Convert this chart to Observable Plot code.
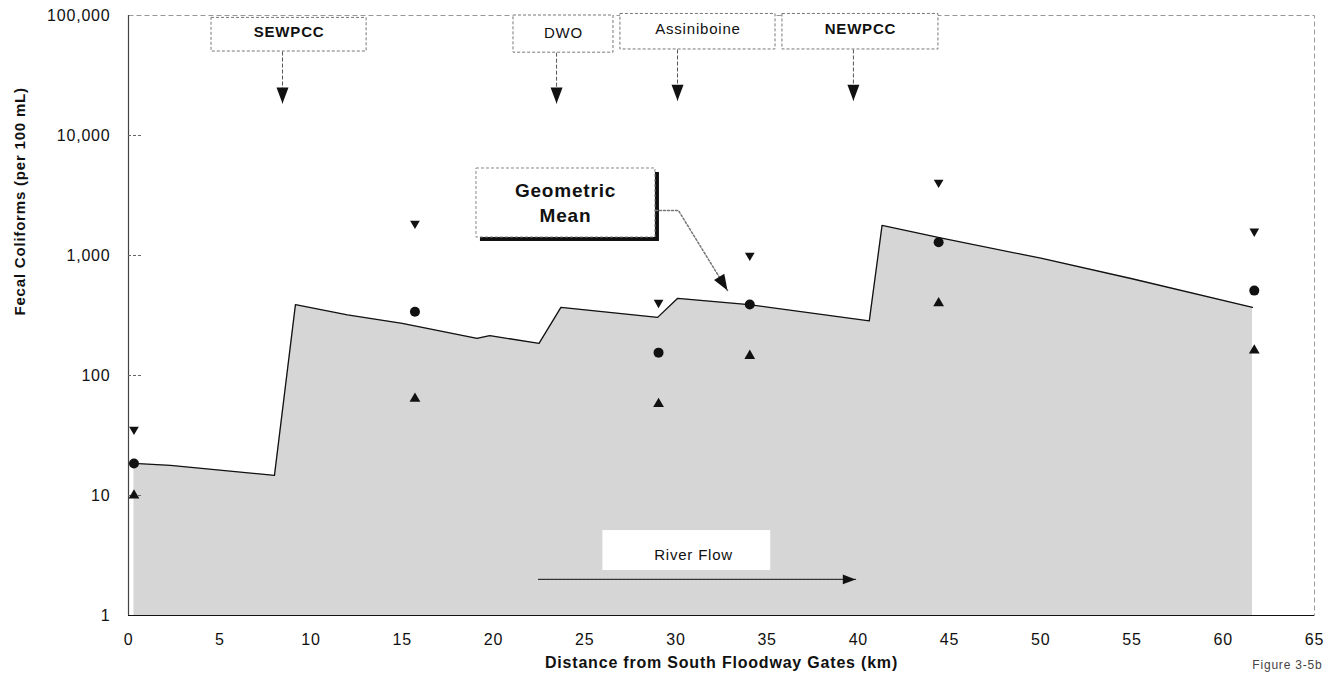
<!DOCTYPE html>
<html>
<head>
<meta charset="utf-8">
<script src="https://cdn.jsdelivr.net/npm/d3@7"></script>
<script src="https://cdn.jsdelivr.net/npm/@observablehq/plot@0.6"></script>
<style>
  html, body { margin: 0; padding: 0; background: #fff; }
  #chart { width: 1335px; height: 677px; }
</style>
</head>
<body>
<div id="chart"></div>
<script>
// ---- Geometric mean profile (modelled line) ----
const profileKm = [0.3, 2.3, 8.0, 9.15, 12, 15, 19.1, 19.8, 22.5, 23.7, 29.0, 30.1, 34.0, 40.6, 41.3, 44.5, 50, 55, 61.6];
const profileGM = [18.5, 17.8, 14.7, 390, 320, 272, 204, 215, 185, 370, 305, 440, 390, 285, 1780, 1400, 950, 640, 370];

// ---- Observed values at sampling sites ----
const siteKm  = [0.3, 15.7, 29.05, 34.05, 44.4, 61.7];
const siteMax = [35.5, 1850, 405, 1000, 4060, 1590];
const siteGeo = [18.5, 340, 155, 390, 1290, 510];
const siteMin = [10, 64, 58, 146, 400, 162];

// ---- Tick labels ----
const xTicks = [0, 5, 10, 15, 20, 25, 30, 35, 40, 45, 50, 55, 60, 65];
const yTicks = [1, 10, 100, 1000, 10000, 100000];

// ---- Annotations: inputs along the river ----
const stationNames = ["SEWPCC", "DWO", "Assiniboine", "NEWPCC"];
const stationKm    = [8.44, 23.46, 30.09, 39.73];
const stationBoxX1 = [4.55, 21.1, 26.96, 35.84];
const stationBoxX2 = [13.05, 26.58, 35.46, 44.39];
const stationBoxTop = [95500, 100000, 103000, 103000];
const stationBoxBottom = [50100, 49000, 52100, 52100];
const stationLabelY = [72000, 70800, 76400, 76400];
const stationTipY = [18500, 18500, 19500, 19500];
const boldStations = ["SEWPCC", "NEWPCC"];

// ---- Annotation: Geometric Mean callout ----
const gmLabel = "Geometric\nMean";
const gmBox = {x1: 19.07, x2: 28.88, y1: 1413, y2: 5310, tx: 23.95, ty: 2818};
const gmLeaderKm = [28.88, 30.14, 32.83];
const gmLeaderVal = [2371, 2371, 511];

// ---- Annotation: River Flow ----
const flowLabel = "River Flow";
const flowKm = [22.47, 39.85];
const flowVal = [2.0, 2.0];
const flowBox = {x1: 26.0, x2: 35.2, y1: 2.37, y2: 5.1, tx: 30.97, ty: 3.16};

// build tables
const profile = profileKm.map((x, i) => ({x, v: profileGM[i]}));
const sites = siteKm.map((x, i) => ({x, max: siteMax[i], geo: siteGeo[i], min: siteMin[i]}));
const stations = stationNames.map((name, i) => ({
  name, x: stationKm[i], bx1: stationBoxX1[i], bx2: stationBoxX2[i],
  top: stationBoxTop[i], bottom: stationBoxBottom[i], ly: stationLabelY[i], tip: stationTipY[i]
}));
const gmLeader = gmLeaderKm.map((x, i) => ({x, v: gmLeaderVal[i]}));
const flow = flowKm.map((x, i) => ({x, v: flowVal[i]}));

// filled arrowhead symbol, tip at origin, pointing down
const arrowHead = {
  draw(ctx, size) {
    const r = Math.sqrt(size / Math.PI);
    ctx.moveTo(0, 0);
    ctx.lineTo(-0.6 * r, -1.6 * r);
    ctx.lineTo(0.6 * r, -1.6 * r);
    ctx.closePath();
  }
};

const font = "'Liberation Sans', Arial, Helvetica, sans-serif";

const chart = Plot.plot({
  width: 1335,
  height: 677,
  marginLeft: 128,
  marginRight: 21,
  marginTop: 15,
  marginBottom: 62,
  style: {fontFamily: font, fontSize: "15px", color: "#111", background: "white", letterSpacing: "0.8px"},
  x: {domain: [0, 65]},
  y: {type: "log", domain: [1, 100000]},
  marks: [
    // shaded area under geometric mean profile
    Plot.areaY(profile, {x: "x", y1: () => 1, y2: "v", fill: "#d6d6d6"}),
    Plot.line(profile, {x: "x", y: "v", stroke: "#111", strokeWidth: 1.3}),
    // frame (dashed grey, top/right)
    Plot.frame({stroke: "#999", strokeDasharray: "5,3"}),
    Plot.ruleX([0], {stroke: "#444", strokeWidth: 1.2}),
    Plot.ruleY([1], {stroke: "#111", strokeWidth: 1.2}),
    // inward y tick marks
    Plot.ruleY(yTicks.slice(1, -1), {x1: 0, x2: 0.8, stroke: "#666", strokeDasharray: "3,2"}),
    Plot.axisY(yTicks, {tickSize: 0, tickPadding: 18, tickFormat: d3.format(","), fontSize: 16, label: null}),
    Plot.axisX(xTicks, {tickSize: 0, tickPadding: 18, fontSize: 16, label: null}),
    // axis titles
    Plot.text(["Fecal Coliforms (per 100 mL)"], {frameAnchor: "left", dx: -108, rotate: -90, fontWeight: "bold", fontSize: 15, fill: "#111"}),
    Plot.text(["Distance from South Floodway Gates (km)"], {frameAnchor: "bottom", dy: 52, fontWeight: "bold", fontSize: 16, fill: "#111"}),
    Plot.text(["Figure 3-5b"], {frameAnchor: "bottom-right", dx: 8, dy: 53, textAnchor: "end", fontSize: 12, fill: "#444"}),
    // station callouts
    Plot.link(stations, {x1: "x", x2: "x", y1: "bottom", y2: "tip", stroke: "#555", strokeDasharray: "4,2"}),
    Plot.dot(stations, {x: "x", y: "tip", symbol: arrowHead, r: 10, fill: "#111", stroke: "none"}),
    Plot.rect(stations, {x1: "bx1", x2: "bx2", y1: "bottom", y2: "top", fill: "white", stroke: "#777", strokeDasharray: "3,2"}),
    Plot.text(stations.filter(d => !boldStations.includes(d.name)), {x: d => (d.bx1 + d.bx2) / 2, y: "ly", text: "name", fontSize: 15, fill: "#111"}),
    Plot.text(stations.filter(d => boldStations.includes(d.name)), {x: d => (d.bx1 + d.bx2) / 2, y: "ly", text: "name", fontSize: 15, fontWeight: "bold", fill: "#111"}),
    // Geometric Mean callout
    Plot.rect([gmBox], {x1: "x1", x2: "x2", y1: "y1", y2: "y2", fill: "#111", dx: 4, dy: 4}),
    Plot.rect([gmBox], {x1: "x1", x2: "x2", y1: "y1", y2: "y2", fill: "white", stroke: "#888", strokeDasharray: "3,2"}),
    Plot.text([gmBox], {x: "tx", y: "ty", text: () => gmLabel, fontWeight: "bold", fontSize: 19, lineHeight: 1.3, fill: "#111"}),
    Plot.line(gmLeader, {x: "x", y: "v", stroke: "#777", strokeDasharray: "2,2"}),
    Plot.dot([gmLeader[2]], {x: "x", y: "v", symbol: arrowHead, r: 10, rotate: -31.5, fill: "#111", stroke: "none"}),
    // River Flow
    Plot.rect([flowBox], {x1: "x1", x2: "x2", y1: "y1", y2: "y2", fill: "white"}),
    Plot.text([flowBox], {x: "tx", y: "ty", text: () => flowLabel, fontSize: 15, fill: "#111"}),
    Plot.line(flow, {x: "x", y: "v", stroke: "#333", strokeWidth: 1.2, strokeDasharray: "3,1"}),
    Plot.dot([flow[1]], {x: "x", y: "v", symbol: arrowHead, r: 8, rotate: -90, fill: "#111", stroke: "none"}),
    // observed data
    Plot.dot(sites, {x: "x", y: "max", symbol: "triangle", r: 3.6, rotate: 180, fill: "#111", stroke: "none"}),
    Plot.dot(sites, {x: "x", y: "geo", symbol: "circle", r: 5, fill: "#111", stroke: "none"}),
    Plot.dot(sites, {x: "x", y: "min", symbol: "triangle", r: 4, fill: "#111", stroke: "none"})
  ]
});
document.getElementById("chart").appendChild(chart);
</script>
</body>
</html>
